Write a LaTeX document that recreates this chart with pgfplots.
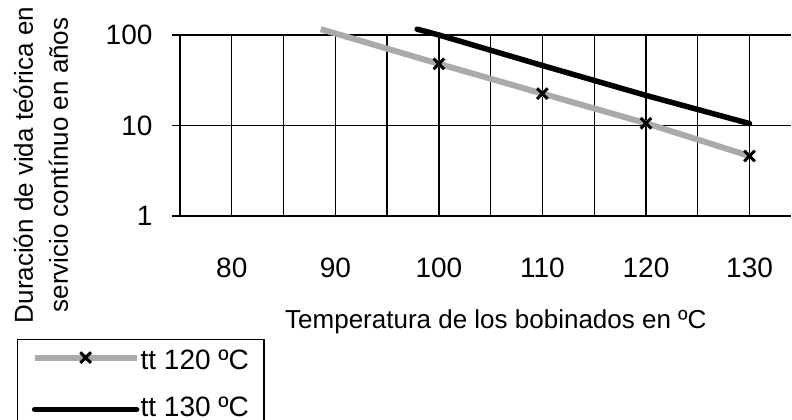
\documentclass[border=0pt]{standalone}
\usepackage{fontspec}
\setmainfont{Liberation Sans}
\usepackage{pgfplots}
\pgfplotsset{compat=1.18}
\definecolor{lgray}{RGB}{170,170,170}
\begin{document}
\begin{tikzpicture}
\path[use as bounding box] (0,0) rectangle (792pt,420pt);
\begin{axis}[
  at={(180pt,204pt)}, anchor=south west,
  scale only axis, width=611pt, height=181pt,
  xmin=75, xmax=134, ymode=log, ymin=1, ymax=100,
  axis x line*=bottom, axis y line*=left,
  axis line style={black, line width=1.3pt, -},
  clip=false,
  xtick={80,90,...,130},
  xticklabels={80,90,100,110,120,130},
  xtick style={draw=none},
  xmajorgrids,
  extra x ticks={75,85,...,125},
  extra x tick labels={},
  extra x tick style={grid=major, tick align=outside, major tick length=12pt, tick style={black, line width=1.3pt}},
  ytick={1,10,100}, yticklabels={1,10,100},
  yminorticks=false,
  ymajorgrids,
  tick align=outside,
  major tick length=8pt,
  ytick style={black, line width=1.3pt},
  grid style={black, line width=1.3pt},
  tick label style={font=\fontsize{28}{32}\selectfont},
  xticklabel style={yshift=-30pt},
  yticklabel style={xshift=-16pt},
  xlabel={Temperatura de los bobinados en ºC},
  xlabel style={at={(rel axis cs:0.517,-0.619)}, anchor=base, font=\fontsize{26}{30}\selectfont},
  ylabel={Duración de vida teórica en\\servicio contínuo en años},
  ylabel style={align=center, at={(rel axis cs:-0.2275,0.282)}, anchor=center, font=\fontsize{26}{35}\selectfont},
  legend style={at={(rel axis cs:-0.2668,-0.6796)}, anchor=north west, draw=black, line width=1.3pt,
    font=\fontsize{28}{32}\selectfont, cells={anchor=west}, inner xsep=14pt, inner ysep=10pt,
    nodes={inner xsep=1pt, inner ysep=0pt, text height=20pt, text depth=0pt}, row sep=27pt},
  legend image code/.code={\draw[#1, mark indices={2}] plot coordinates {(0pt,0pt) (51pt,0pt) (102pt,0pt)};},
]
\addplot[lgray, line width=6pt, mark=x, mark size=7.5pt, mark indices={2,3,4,5},
  mark options={black, line width=3pt, mark size=7.5pt},
  legend image post style={yshift=2pt}]
  coordinates {(88.6,116) (100,48) (110,22.5) (120,10.6) (130,4.6)};
\addlegendentry{tt 120 ºC\hspace{14pt}}
\addplot[black, line width=5.5pt, no marks, line cap=round,
  legend image post style={yshift=-3pt}]
  coordinates {(97.9,116) (100,100) (110,46) (120,21.5) (130,10.5)};
\addlegendentry{tt 130 ºC\hspace{14pt}}
\end{axis}
\end{tikzpicture}
\end{document}
